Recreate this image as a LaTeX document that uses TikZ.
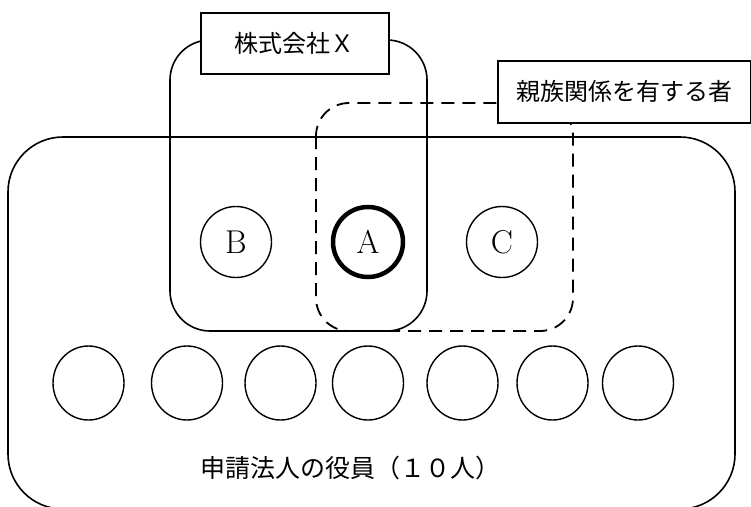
\documentclass[tikz,border=0pt]{standalone}
\usepackage{fontspec}
\newfontfamily\cjk{Noto Sans CJK JP}
\tikzset{
  frame/.style={draw, line width=1.6pt},
  dashframe/.style={draw, line width=1.8pt, dash pattern=on 13pt off 8pt},
  labelbox/.style={draw, line width=1.6pt, fill=white, rectangle, inner sep=0pt, anchor=north west,
    font=\cjk\fontsize{24}{28}\selectfont},
  person/.style={draw, line width=1.4pt, circle, inner sep=0pt, minimum size=71pt,
    font=\fontsize{33}{36}\selectfont},
  member/.style={draw, line width=1.4pt, ellipse, inner sep=0pt, minimum width=71pt, minimum height=74pt},
}
\usetikzlibrary{shapes.geometric}
\begin{document}
\begin{tikzpicture}[x=1pt,y=-1pt]
\useasboundingbox (0,0) rectangle (751,506);
\clip (0,0) rectangle (751,506);
% outer frame
\draw[frame, rounded corners=55pt] (8,137) rectangle (735,509);
% company X frame
\draw[frame, rounded corners=40pt] (170,40) rectangle (427,331);
% relatives frame
\draw[dashframe, rounded corners=33pt] (316,103) rectangle (573,331);
% labels
\node[labelbox, minimum width=188pt, minimum height=61pt] (lx) at (200,12) {株式会社Ｘ};
\node[labelbox, minimum width=253pt, minimum height=62pt] (lr) at (497,60) {親族関係を有する者};
% persons
\node[person] (b) at (236,242) {B};
\node[person, line width=4.5pt, minimum size=70pt] (a) at (368,242) {A};
\node[person] (c) at (502,242) {C};
% members
\node[member] (m1) at (88.5,383) {};
\node[member] (m2) at (187,383) {};
\node[member] (m3) at (280.5,383) {};
\node[member] (m4) at (368,383) {};
\node[member] (m5) at (462.5,383) {};
\node[member] (m6) at (552.5,383) {};
\node[member] (m7) at (638,383) {};
\node[font=\cjk\fontsize{25}{28}\selectfont] (t) at (350,468) {申請法人の役員（１０人）};
\end{tikzpicture}
\end{document}
